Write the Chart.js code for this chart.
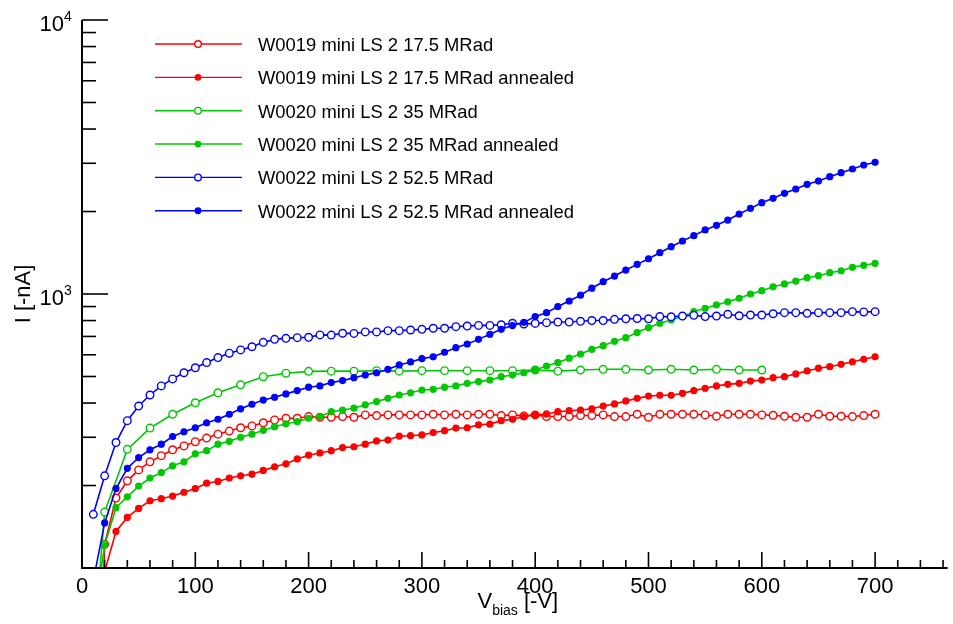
<!DOCTYPE html>
<html>
<head>
<meta charset="utf-8">
<title>IV curves W0019 / W0020 / W0022</title>
<script src="https://cdn.jsdelivr.net/npm/chart.js@4.4.1/dist/chart.umd.min.js"></script>
<style>
  html, body { margin: 0; padding: 0; background: #ffffff; }
  #wrap { width: 953px; height: 624px; }
</style>
</head>
<body>
<div id="wrap"><canvas id="ivChart" width="953" height="624"></canvas></div>
<script>
const FONT = '"Liberation Sans", Arial, Helvetica, sans-serif';

// bias voltage steps [-V]
const biasFine = [
    10, 20, 30, 40, 50, 60, 70, 80, 90, 100,
    110, 120, 130, 140, 150, 160, 170, 180, 190, 200,
    210, 220, 230, 240, 250, 260, 270, 280, 290, 300,
    310, 320, 330, 340, 350, 360, 370, 380, 390, 400,
    410, 420, 430, 440, 450, 460, 470, 480, 490, 500,
    510, 520, 530, 540, 550, 560, 570, 580, 590, 600,
    610, 620, 630, 640, 650, 660, 670, 680, 690, 700
];
const biasCoarse = [
    0, 20, 40, 60, 80, 100, 120, 140, 160, 180,
    200, 220, 240, 260, 280, 300, 320, 340, 360, 380,
    400, 420, 440, 460, 480, 500, 520, 540, 560, 580, 600
];

// leakage current [-nA]
const w0019 = [
    5, 122, 180, 208, 228, 244, 257, 270, 279, 289,
    298, 308, 316, 325, 330, 339, 347, 352, 352, 357,
    355, 355, 357, 355, 362, 360, 362, 362, 362, 362,
    364, 362, 364, 362, 364, 364, 360, 362, 359, 362,
    357, 357, 357, 360, 360, 362, 357, 357, 364, 355,
    364, 364, 364, 364, 362, 358, 364, 364, 364, 362,
    361, 358, 355, 355, 364, 358, 358, 357, 360, 364
];
const w0019Annealed = [
    40, 97, 136, 153, 165, 176, 179, 183, 189, 195,
    204, 207, 213, 217, 220, 227, 234, 240, 250, 258,
    263, 268, 275, 277, 283, 291, 293, 303, 304, 306,
    312, 317, 324, 325, 333, 335, 345, 349, 357, 362,
    365, 372, 375, 377, 381, 390, 397, 407, 416, 424,
    427, 427, 434, 444, 453, 462, 468, 472, 481, 485,
    495, 499, 511, 524, 536, 543, 554, 566, 578, 590
];
const w0020 = [
    16, 160, 271, 324, 364, 401, 436, 466, 499, 514,
    522, 523, 523, 525, 523, 525, 525, 525, 525, 525,
    528, 523, 528, 531, 531, 528, 531, 528, 531, 528, 528
];
const w0020Annealed = [
    64, 121, 166, 182, 199, 213, 223, 236, 244, 261,
    268, 283, 290, 300, 308, 318, 328, 336, 342, 352,
    357, 372, 377, 383, 394, 405, 416, 428, 436, 446,
    449, 457, 462, 472, 479, 485, 499, 506, 516, 528,
    546, 562, 583, 604, 628, 648, 672, 693, 723, 754,
    782, 804, 827, 862, 887, 912, 937, 965, 1000, 1028,
    1063, 1088, 1115, 1147, 1166, 1196, 1216, 1252, 1273, 1294
];
const w0022 = [
    157, 217, 287, 345, 390, 428, 462, 490, 516, 538,
    562, 586, 608, 625, 642, 666, 683, 689, 693, 695,
    709, 708, 719, 718, 727, 727, 735, 735, 739, 743,
    750, 750, 760, 764, 768, 768, 772, 782, 777, 781,
    786, 790, 790, 795, 800, 800, 808, 812, 814, 812,
    827, 826, 831, 836, 827, 831, 843, 833, 838, 838,
    847, 855, 855, 850, 855, 855, 855, 862, 860, 862
];
const w0022Annealed = [
    90, 146, 195, 231, 253, 270, 283, 302, 314, 325,
    339, 349, 364, 381, 396, 410, 420, 432, 444, 457,
    462, 475, 483, 495, 506, 516, 531, 551, 565, 581,
    590, 613, 637, 657, 683, 713, 743, 767, 788, 827,
    855, 900, 943, 990, 1050, 1109, 1163, 1223, 1283, 1345,
    1415, 1488, 1561, 1633, 1713, 1781, 1862, 1959, 2054, 2154,
    2235, 2331, 2417, 2513, 2584, 2681, 2772, 2859, 2957, 3024
];

const seriesLabels = [
    'W0019 mini LS 2 17.5 MRad',
    'W0019 mini LS 2 17.5 MRad annealed',
    'W0020 mini LS 2 35 MRad',
    'W0020 mini LS 2 35 MRad annealed',
    'W0022 mini LS 2 52.5 MRad',
    'W0022 mini LS 2 52.5 MRad annealed'
];

const xTickValues = [0, 100, 200, 300, 400, 500, 600, 700];
const xTickLabels = ['0', '100', '200', '300', '400', '500', '600', '700'];
const yTickValues = [1000, 10000];
const yTickExponents = ['3', '4'];

const RED = '#ff0000';
const GREEN = '#00c800';
const BLUE = '#0000ff';

function makeSet(label, volts, current, color, open, order) {
    return {
        label: label,
        data: volts.map((v, i) => ({ x: v, y: current[i] })),
        borderColor: color,
        backgroundColor: color,
        borderWidth: 1.6,
        pointRadius: open ? 3.8 : 3.0,
        pointBorderWidth: open ? 1.4 : 1.2,
        pointBorderColor: color,
        pointBackgroundColor: open ? '#ffffff' : color,
        tension: 0,
        clip: 0,
        order: order,
        openMarker: open
    };
}

// axes drawn ROOT style: ticks pointing inwards, no frame on top/right
const rootAxes = {
    id: 'rootAxes',
    afterDraw(chart) {
        const { ctx, chartArea: a } = chart;
        const xs = chart.scales.x;
        const ys = chart.scales.y;
        ctx.save();
        ctx.strokeStyle = '#000';
        ctx.fillStyle = '#000';

        ctx.lineWidth = 2;
        ctx.beginPath();
        ctx.moveTo(a.left, a.top);
        ctx.lineTo(a.left, a.bottom);
        ctx.lineTo(a.right, a.bottom);
        ctx.stroke();

        ctx.lineWidth = 1.6;
        for (let v = 20; v <= xs.max; v += 20) {
            const px = xs.getPixelForValue(v);
            const len = v % 100 === 0 ? 16 : 8;
            ctx.beginPath();
            ctx.moveTo(px, a.bottom);
            ctx.lineTo(px, a.bottom - len);
            ctx.stroke();
        }
        for (let dec = 100; dec < ys.max; dec *= 10) {
            for (let m = 2; m <= 10; m++) {
                const py = ys.getPixelForValue(m * dec);
                const len = m === 10 ? 26 : 14;
                ctx.beginPath();
                ctx.moveTo(a.left, py);
                ctx.lineTo(a.left + len, py);
                ctx.stroke();
            }
        }

        // x tick labels
        ctx.font = '22px ' + FONT;
        ctx.textAlign = 'center';
        ctx.textBaseline = 'alphabetic';
        xTickValues.forEach((v, i) => {
            ctx.fillText(xTickLabels[i], xs.getPixelForValue(v), a.bottom + 25);
        });

        // y tick labels as powers of ten
        yTickValues.forEach((v, i) => {
            const py = ys.getPixelForValue(v);
            ctx.font = '22px ' + FONT;
            ctx.textAlign = 'right';
            ctx.fillText('10', a.left - 18, py + 11);
            ctx.font = '14px ' + FONT;
            ctx.textAlign = 'left';
            ctx.fillText(yTickExponents[i], a.left - 18, py + 1);
        });

        // x title with subscript
        const parts = [['V', 22, 0], ['bias', 14, 7], [' [-V]', 22, 0]];
        let total = 0;
        parts.forEach(p => { ctx.font = p[1] + 'px ' + FONT; total += ctx.measureText(p[0]).width; });
        let tx = (a.left + a.right) / 2 + 3 - total / 2;
        ctx.textAlign = 'left';
        parts.forEach(p => {
            ctx.font = p[1] + 'px ' + FONT;
            ctx.fillText(p[0], tx, 608 + p[2]);
            tx += ctx.measureText(p[0]).width;
        });

        // y title
        ctx.save();
        ctx.translate(30, (a.top + a.bottom) / 2);
        ctx.rotate(-Math.PI / 2);
        ctx.font = '22px ' + FONT;
        ctx.textAlign = 'center';
        ctx.fillText('I [-nA]', 0, 0);
        ctx.restore();

        ctx.restore();
    }
};

// legend with line + marker samples
const lineLegend = {
    id: 'lineLegend',
    afterDraw(chart) {
        const ctx = chart.ctx;
        ctx.save();
        chart.data.datasets.forEach((ds, i) => {
            const y = 44 + i * 33.35;
            ctx.strokeStyle = ds.borderColor;
            ctx.lineWidth = 1.4;
            ctx.beginPath();
            ctx.moveTo(155, y);
            ctx.lineTo(242, y);
            ctx.stroke();
            ctx.beginPath();
            ctx.arc(198, y, ds.openMarker ? 3.3 : 2.7, 0, Math.PI * 2);
            ctx.fillStyle = ds.openMarker ? '#ffffff' : ds.borderColor;
            ctx.fill();
            ctx.stroke();
            ctx.fillStyle = '#000';
            ctx.font = '18.4px ' + FONT;
            ctx.textAlign = 'left';
            ctx.textBaseline = 'alphabetic';
            ctx.fillText(ds.label, 258, y + 7);
        });
        ctx.restore();
    }
};

new Chart(document.getElementById('ivChart'), {
    type: 'line',
    data: {
        datasets: [
            makeSet(seriesLabels[0], biasFine, w0019, RED, true, 5),
            makeSet(seriesLabels[1], biasFine, w0019Annealed, RED, false, 4),
            makeSet(seriesLabels[2], biasCoarse, w0020, GREEN, true, 3),
            makeSet(seriesLabels[3], biasFine, w0020Annealed, GREEN, false, 2),
            makeSet(seriesLabels[4], biasFine, w0022, BLUE, true, 1),
            makeSet(seriesLabels[5], biasFine, w0022Annealed, BLUE, false, 0)
        ]
    },
    options: {
        responsive: false,
        animation: false,
        events: [],
        layout: {
            padding: { left: 82, top: 20, right: 0, bottom: 56 }
        },
        plugins: {
            legend: { display: false },
            tooltip: { enabled: false }
        },
        scales: {
            x: {
                type: 'linear',
                display: false,
                min: 0,
                max: 764
            },
            y: {
                type: 'logarithmic',
                display: false,
                min: 100,
                max: 10000
            }
        }
    },
    plugins: [rootAxes, lineLegend]
});
</script>
</body>
</html>
